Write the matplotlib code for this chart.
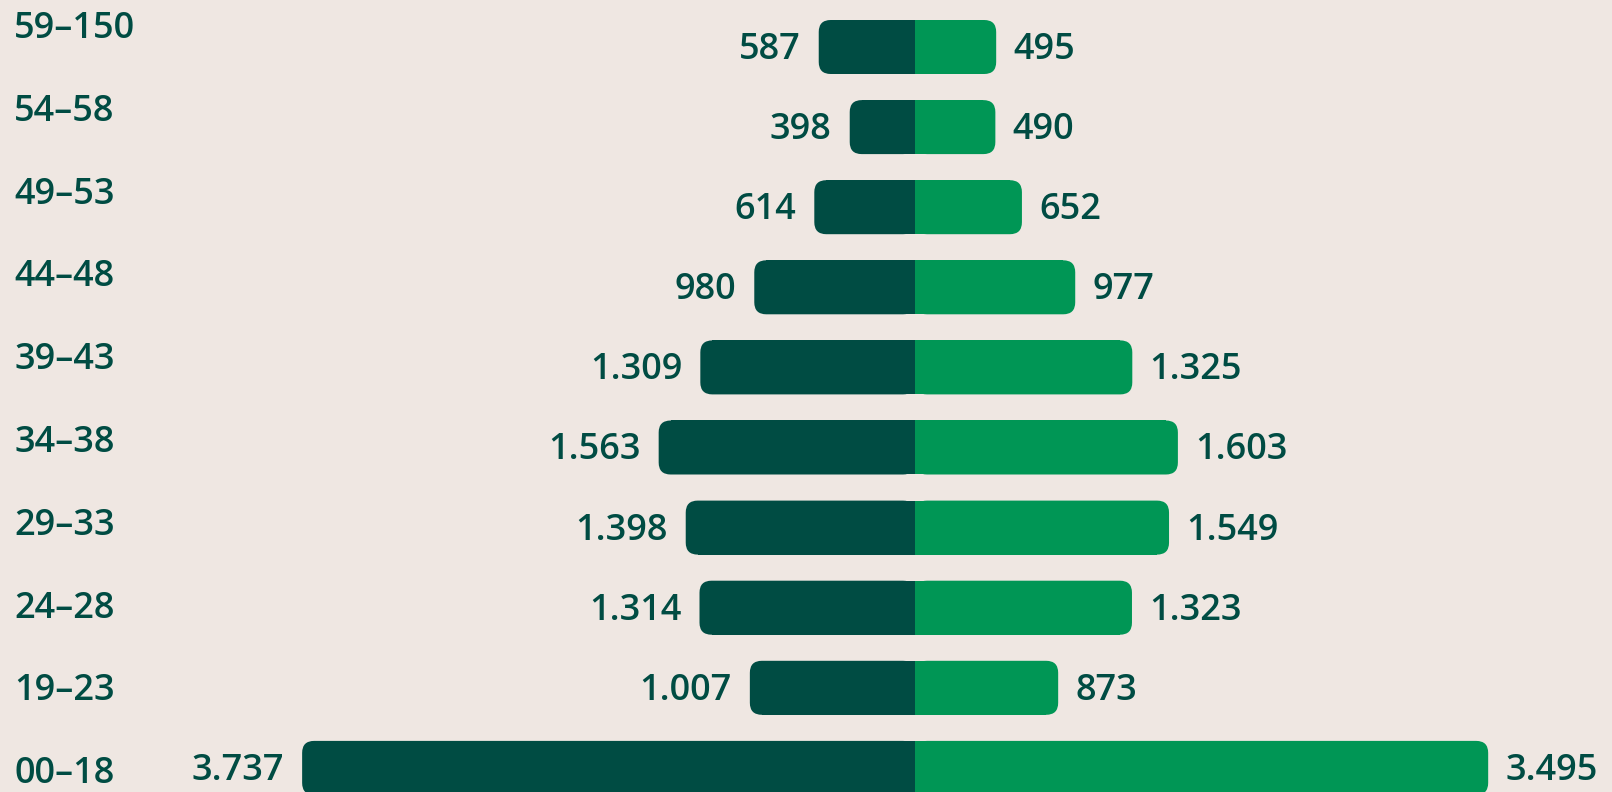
import matplotlib.pyplot as plt
from matplotlib.patches import FancyBboxPatch, Rectangle

# Data
age_groups = ["59–150", "54–58", "49–53", "44–48", "39–43", "34–38", "29–33", "24–28", "19–23", "00–18"]
left_values = [587, 398, 614, 980, 1309, 1563, 1398, 1314, 1007, 3737]
right_values = [495, 490, 652, 977, 1325, 1603, 1549, 1323, 873, 3495]

dark = "#004C43"
green = "#009655"
bg = "#EFE7E2"

W, H = 1612, 792
fig = plt.figure(figsize=(W / 100, H / 100), dpi=100, facecolor=bg)
ax = fig.add_axes([0, 0, 1, 1], facecolor=bg)
ax.axis("off")

# pixel layout -> data limits
center_px = 915
px_per_unit = 0.1640
row0_px = 47
row_px = 80.1
ax.set_xlim(-center_px / px_per_unit, (W - center_px) / px_per_unit)
ax.set_ylim((H - row0_px) / row_px, -row0_px / row_px)

xu = 1 / px_per_unit  # data x per pixel
yu = 1 / row_px       # data y per pixel
bar_h = 54 * yu
r = 12 * xu
aspect = yu / xu

font = dict(family=["Open Sans", "DejaVu Sans"], fontsize=26, fontweight="semibold", color=dark)


def half_bar(y, x0, x1, color, round_left):
    ax.add_patch(FancyBboxPatch((x0, y - bar_h / 2), x1 - x0, bar_h,
                                boxstyle=f"round,pad=0,rounding_size={r}",
                                mutation_aspect=aspect, fc=color, ec="none", lw=0))
    # square off the inner end
    if round_left:
        ax.add_patch(Rectangle((x0 + r, y - bar_h / 2), x1 - x0 - r, bar_h, fc=color, ec="none", lw=0))
    else:
        ax.add_patch(Rectangle((x0, y - bar_h / 2), x1 - x0 - r, bar_h, fc=color, ec="none", lw=0))


for i, (lab, lv, rv) in enumerate(zip(age_groups, left_values, right_values)):
    half_bar(i, -lv, 0, dark, True)
    half_bar(i, 0, rv, green, False)
    ty = i + 3 * yu
    ax.text(-lv - 18 * xu, ty, f"{lv:,}".replace(",", "."), ha="right", va="center", **font)
    ax.text(rv + 17 * xu, ty, f"{rv:,}".replace(",", "."), ha="left", va="center", **font)
    fig.text(14 / W, 1 - (29 + i * 82.8) / H, lab, ha="left", va="center", **font)

fig.savefig("out.png", dpi=100, facecolor=bg)
